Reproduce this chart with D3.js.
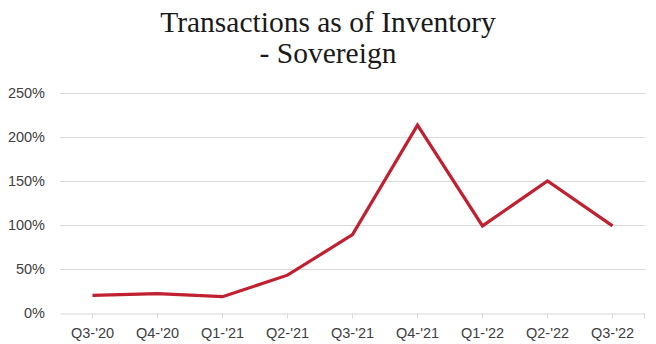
<!DOCTYPE html>
<html><head><meta charset="utf-8">
<script src="https://cdn.jsdelivr.net/npm/d3@7"></script>
<style>body{margin:0;background:#fff}svg{display:block}</style>
</head><body><svg id="c" width="656" height="344"></svg>
<script>
const categories = ["Q3-'20","Q4-'20","Q1-'21","Q2-'21","Q3-'21","Q4-'21","Q1-'22","Q2-'22","Q3-'22"];
const values = [0.20, 0.22, 0.185, 0.43, 0.89, 2.135, 0.99, 1.50, 0.99];
const yTicks = [0, 0.5, 1, 1.5, 2, 2.5];
const titleLines = ["Transactions as of Inventory", "- Sovereign"];

(function(){
const svg = d3.select("#c");
const pLeft = 60, pRight = 645, pTop = 93, pBottom = 313;
const x = d3.scaleBand().domain(categories).range([pLeft, pRight]);
const y = d3.scaleLinear().domain([0, 2.5]).range([pBottom, pTop]);
const cx = d => x(d) + x.bandwidth()/2;

svg.append("g").selectAll("text").data(titleLines).join("text")
  .attr("x", 328).attr("y", (d,i)=>32 + i*31)
  .attr("text-anchor","middle")
  .attr("font-family","'Liberation Serif', 'DejaVu Serif', serif")
  .attr("font-size", 29.5).attr("fill","#1a1a1a")
  .text(d=>d);

svg.append("g").selectAll("line").data(yTicks.filter(t=>t>0)).join("line")
  .attr("x1", pLeft).attr("x2", pRight)
  .attr("y1", d=>y(d)+0.5).attr("y2", d=>y(d)+0.5)
  .attr("stroke","#d9d9d9").attr("stroke-width",1);

svg.append("g").selectAll("text").data(yTicks).join("text")
  .attr("x", 45).attr("y", d=>y(d)+5)
  .attr("text-anchor","end")
  .attr("font-family","'Liberation Sans', Arial, sans-serif")
  .attr("font-size", 14.5).attr("fill","#404040")
  .text(d=>d3.format(".0%")(d));

const xAxis = d3.axisBottom(x).tickSize(5).tickSizeOuter(0);
const gx = svg.append("g").attr("transform",`translate(0,${pBottom+0.5})`).call(xAxis);
gx.select(".domain").attr("stroke","#d9d9d9");
gx.selectAll(".tick line").attr("stroke","#d9d9d9");
gx.append("line").attr("x1", pRight-0.5).attr("x2", pRight-0.5).attr("y1",0).attr("y2",5).attr("stroke","#d9d9d9");
gx.selectAll(".tick text")
  .attr("dy", 0).attr("y", 24)
  .attr("font-family","'Liberation Sans', Arial, sans-serif")
  .attr("font-size", 14.5).attr("fill","#404040");

const line = d3.line().x((d,i)=>cx(categories[i])).y(d=>y(d));
svg.append("path").datum(values)
  .attr("d", line)
  .attr("fill","none").attr("stroke","#c0202f").attr("stroke-width",3.2)
  .attr("stroke-linejoin","miter");
})();
</script></body></html>
